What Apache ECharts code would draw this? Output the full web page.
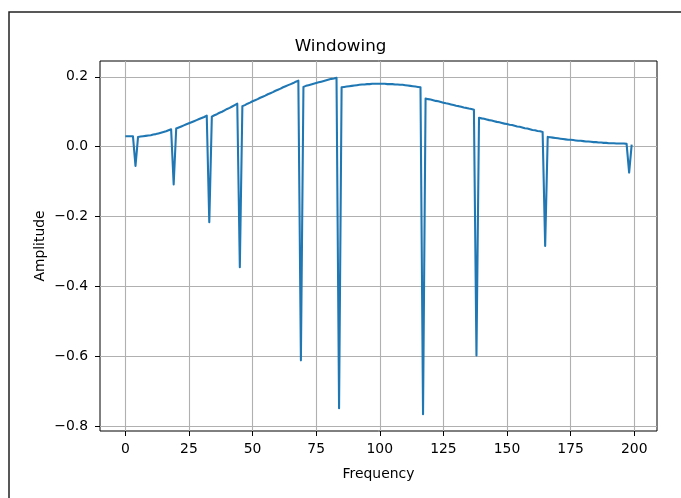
<!DOCTYPE html>
<html>
<head>
<meta charset="utf-8">
<script src="https://cdn.jsdelivr.net/npm/echarts@6/dist/echarts.min.js"></script>
<style>
  html, body { margin: 0; padding: 0; background: #fff; }
  #chart { width: 681px; height: 498px; }
</style>
</head>
<body>
<div id="chart"></div>
<script>
// amplitude per frequency bin (bin index = frequency)
const amplitude = [
  0.030, 0.030, 0.030, 0.030, -0.055,
  0.028, 0.029, 0.030, 0.031, 0.032, 0.033, 0.035, 0.036, 0.038, 0.040, 0.042, 0.044, 0.047, 0.050,
  -0.108,
  0.052, 0.055, 0.058, 0.061, 0.064, 0.067, 0.070, 0.073, 0.076, 0.079, 0.082, 0.085, 0.089,
  -0.216,
  0.086, 0.090, 0.093, 0.097, 0.100, 0.104, 0.108, 0.111, 0.115, 0.119, 0.123,
  -0.345,
  0.116, 0.119, 0.123, 0.126, 0.130, 0.133, 0.136, 0.140, 0.143, 0.146, 0.150, 0.153,
  0.156, 0.160, 0.163, 0.166, 0.170, 0.173, 0.176, 0.179, 0.182, 0.186, 0.189,
  -0.611,
  0.171, 0.174, 0.176, 0.178, 0.180, 0.182, 0.184, 0.186, 0.188, 0.190, 0.192, 0.194, 0.195, 0.197,
  -0.748,
  0.170, 0.171, 0.172, 0.173, 0.174, 0.175, 0.176, 0.177, 0.178, 0.178, 0.179, 0.179, 0.180, 0.180,
  0.180, 0.180, 0.180, 0.180, 0.179, 0.179, 0.179, 0.178, 0.178, 0.177, 0.177, 0.176, 0.175, 0.174,
  0.173, 0.172, 0.171, 0.170,
  -0.765,
  0.138, 0.136, 0.135, 0.133, 0.131, 0.130, 0.128, 0.126, 0.124, 0.123, 0.121, 0.119, 0.117, 0.116,
  0.114, 0.112, 0.111, 0.109, 0.108, 0.106,
  -0.597,
  0.083, 0.081, 0.080, 0.078, 0.076, 0.075, 0.073, 0.071, 0.070, 0.068, 0.066, 0.065, 0.063, 0.062,
  0.060, 0.058, 0.057, 0.055, 0.053, 0.052, 0.050, 0.048, 0.047, 0.045, 0.044, 0.042,
  -0.284,
  0.028, 0.027, 0.026, 0.025, 0.024, 0.023, 0.022, 0.021, 0.020, 0.020, 0.019, 0.018, 0.017, 0.017,
  0.016, 0.015, 0.015, 0.014, 0.013, 0.013, 0.012, 0.012, 0.011, 0.011, 0.010, 0.010, 0.010, 0.009,
  0.009, 0.009, 0.009, 0.008,
  -0.074, 0.006
];
const xTicks = [0, 25, 50, 75, 100, 125, 150, 175, 200];
const yTicks = [-0.8, -0.6, -0.4, -0.2, 0.0, 0.2];

const font = "DejaVu Sans";
const chart = echarts.init(document.getElementById("chart"));

// matplotlib-like 5% margins around the data
const xMin = 0, xMax = amplitude.length - 1;
const yMin = Math.min(...amplitude), yMax = Math.max(...amplitude);
const xPad = (xMax - xMin) * 0.05, yPad = (yMax - yMin) * 0.05;

const option = {
  animation: false,
  title: {
    text: "Windowing",
    left: "center",
    top: 33,
    textStyle: { fontFamily: font, fontSize: 16.7, fontWeight: "normal", color: "#000" },
  },
  grid: {
    left: 100, right: 24, top: 61, bottom: 67,
    show: true, borderColor: "#000", borderWidth: 1,
  },
  xAxis: {
    type: "value",
    min: xMin - xPad,
    max: xMax + xPad,
    name: "Frequency",
    nameLocation: "middle",
    nameGap: 36,
    nameTextStyle: { fontFamily: font, fontSize: 13.9, color: "#000" },
    axisLine: { show: false, onZero: false },
    axisTick: { show: true, length: 5, customValues: xTicks, lineStyle: { color: "#000", width: 1 } },
    axisLabel: {
      customValues: xTicks, margin: 11,
      fontFamily: font, fontSize: 13.9, color: "#000",
    },
    splitLine: { show: true, lineStyle: { color: "#b0b0b0", width: 1.1 } },
  },
  yAxis: {
    type: "value",
    min: yMin - yPad,
    max: yMax + yPad,
    name: "Amplitude",
    nameLocation: "middle",
    nameGap: 53,
    nameMoveOverlap: false,
    nameTextStyle: { fontFamily: font, fontSize: 13.9, color: "#000" },
    axisLine: { show: false, onZero: false },
    axisTick: { show: true, length: 5, customValues: yTicks, lineStyle: { color: "#000", width: 1 } },
    axisLabel: {
      customValues: yTicks, margin: 12,
      fontFamily: font, fontSize: 13.9, color: "#000",
      formatter: (v) => v.toFixed(1).replace("-", "\u2212"),
    },
    splitLine: { show: true, lineStyle: { color: "#b0b0b0", width: 1.1 } },
  },
  graphic: [
    {
      type: "rect",
      shape: { x: 9, y: 12, width: 720, height: 520 },
      style: { fill: "none", stroke: "#222", lineWidth: 1.5 },
      silent: true,
    },
  ],
  series: [
    {
      type: "line",
      data: amplitude.map((v, i) => [i, v]),
      showSymbol: false,
      lineStyle: { color: "#1f77b4", width: 2.08, join: "round" },
    },
  ],
};

chart.setOption(option);
</script>
</body>
</html>
